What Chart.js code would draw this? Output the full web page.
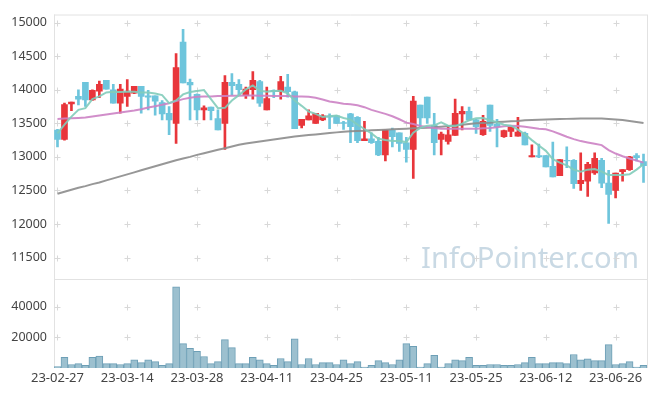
<!DOCTYPE html>
<html>
<head>
<meta charset="utf-8">
<script src="https://cdn.jsdelivr.net/npm/chart.js@4/dist/chart.umd.min.js"></script>
<style>
    html, body { margin: 0; padding: 0; background: #fff; }
    #wrap { width: 657px; height: 396px; }
</style>
</head>
<body>
<div id="wrap"><canvas id="chart" width="657" height="396"></canvas></div>
<script>
    "use strict";

    // Trading days
    var dates = [
        '23-02-27', '23-02-28',
        '23-03-02', '23-03-03', '23-03-06', '23-03-07', '23-03-08', '23-03-09', '23-03-10', '23-03-13',
        '23-03-14', '23-03-15', '23-03-16', '23-03-17', '23-03-20', '23-03-21', '23-03-22', '23-03-23',
        '23-03-24', '23-03-27', '23-03-28', '23-03-29', '23-03-30', '23-03-31',
        '23-04-03', '23-04-04', '23-04-05', '23-04-06', '23-04-07', '23-04-10', '23-04-11', '23-04-12',
        '23-04-13', '23-04-14', '23-04-17', '23-04-18', '23-04-19', '23-04-20', '23-04-21', '23-04-24',
        '23-04-25', '23-04-26', '23-04-27', '23-04-28',
        '23-05-02', '23-05-03', '23-05-04', '23-05-08', '23-05-09', '23-05-10', '23-05-11', '23-05-12',
        '23-05-15', '23-05-16', '23-05-17', '23-05-18', '23-05-19', '23-05-22', '23-05-23', '23-05-24',
        '23-05-25', '23-05-26', '23-05-30', '23-05-31',
        '23-06-01', '23-06-02', '23-06-05', '23-06-07', '23-06-08', '23-06-09', '23-06-12', '23-06-13',
        '23-06-14', '23-06-15', '23-06-16', '23-06-19', '23-06-20', '23-06-21', '23-06-22', '23-06-23',
        '23-06-26', '23-06-27', '23-06-28', '23-06-29', '23-06-30'
    ];

    // Axis ticks
    var priceTicks = [11500, 12000, 12500, 13000, 13500, 14000, 14500, 15000];
    var volumeTicks = [20000, 40000];

    // OHLC
    var opens = [
        13400, 13260, 13790, 13900, 14110, 13850, 13980, 14140, 14000, 13800,
        13900, 13950, 14050, 13910, 13910, 13810, 13650, 13500, 14710, 14110,
        13930, 13700, 13740, 13570, 13500, 14110, 14080, 13910, 14000, 14120,
        13700, 13990, 13970, 14040, 13970, 13470, 13550, 13500, 13550, 13610,
        13610, 13510, 13640, 13590, 13240, 13270, 13230, 13030, 13400, 13360,
        13210, 13110, 13770, 13890, 13470, 13260, 13230, 13320, 13640, 13680,
        13550, 13330, 13770, 13490, 13300, 13380, 13310, 13350, 13000, 13020,
        13020, 12860, 12720, 12950, 12950, 12600, 12640, 12760, 12950, 12610,
        12500, 12780, 12810, 13020, 12930
    ];
    var highs = [
        13410, 13800, 13815, 14000, 14110, 14000, 14130, 14140, 14080, 14080,
        14150, 14050, 14050, 13990, 13910, 13840, 13750, 14540, 14900, 14160,
        13940, 13760, 13740, 13700, 14210, 14240, 14150, 14040, 14270, 14140,
        14040, 14000, 14200, 14230, 13980, 13560, 13700, 13650, 13630, 13640,
        13620, 13530, 13650, 13600, 13530, 13360, 13290, 13400, 13430, 13360,
        13290, 13900, 13770, 13890, 13650, 13370, 13460, 13860, 13750, 13740,
        13560, 13620, 13770, 13560, 13400, 13470, 13590, 13370, 13180, 13190,
        13020, 13220, 12960, 13150, 12960, 13060, 12920, 13060, 12980, 12800,
        12760, 12810, 13010, 13050, 13040
    ];
    var lows = [
        13150, 13250, 13690, 13775, 13750, 13840, 13880, 14010, 13800, 13650,
        13750, 13940, 13650, 13700, 13620, 13550, 13330, 13200, 14100, 13550,
        13550, 13550, 13550, 13400, 13110, 13920, 13920, 13870, 13860, 13750,
        13700, 13880, 13860, 13890, 13420, 13430, 13550, 13500, 13540, 13420,
        13500, 13410, 13210, 13210, 13240, 13200, 13020, 12940, 13150, 13080,
        12920, 12680, 13430, 13500, 13030, 13030, 13190, 13320, 13400, 13540,
        13350, 13320, 13380, 13150, 13290, 13300, 13310, 13180, 13000, 12990,
        12850, 12700, 12720, 12840, 12530, 12500, 12410, 12740, 12540, 12010,
        12390, 12640, 12800, 12940, 12620
    ];
    var closes = [
        13260, 13780, 13815, 13860, 13850, 13990, 14080, 14010, 13800, 14010,
        13960, 14050, 13900, 13890, 13830, 13640, 13550, 14330, 14100, 14070,
        13700, 13730, 13690, 13400, 14110, 14060, 14000, 14010, 14140, 13800,
        13870, 13970, 14120, 13970, 13420, 13560, 13610, 13650, 13610, 13590,
        13500, 13500, 13450, 13240, 13270, 13210, 13030, 13400, 13300, 13200,
        13110, 13830, 13580, 13580, 13210, 13340, 13330, 13650, 13680, 13550,
        13450, 13530, 13470, 13450, 13390, 13450, 13370, 13180, 13020, 13000,
        12850, 12700, 12960, 12940, 12600, 12650, 12890, 12980, 12610, 12440,
        12760, 12810, 13000, 12990, 12870
    ];

    // Moving averages
    var ma5 = [
        13350, 13480, 13600, 13700, 13725, 13860, 13900, 13960, 13970, 13965,
        13970, 13970, 13960, 13960, 13945, 13920, 13800, 13840, 13930, 13965,
        13980, 13995, 13860, 13725, 13730, 13840, 13920, 14005, 14065, 13985,
        13970, 13980, 13985, 13945, 13840, 13760, 13675, 13640, 13595, 13605,
        13615, 13580, 13555, 13480, 13415, 13350, 13270, 13250, 13235, 13235,
        13220, 13360, 13430, 13465, 13470, 13515, 13465, 13455, 13495, 13545,
        13575, 13580, 13545, 13515, 13480, 13465, 13405, 13335, 13250, 13170,
        13090, 12965, 12915, 12875, 12810, 12780, 12810, 12820, 12780, 12730,
        12730, 12730, 12740, 12810, 12890
    ];
    var ma20 = [
        13565, 13570, 13575, 13580, 13585, 13600, 13615, 13630, 13645, 13660,
        13675, 13690, 13710, 13735, 13755, 13775, 13800, 13830, 13860, 13880,
        13895, 13900, 13900, 13905, 13905, 13910, 13910, 13915, 13915, 13912,
        13910, 13905, 13905, 13905, 13900, 13900, 13895, 13880, 13855, 13825,
        13810, 13790, 13785, 13770, 13740, 13700, 13670, 13640, 13605, 13560,
        13510, 13490, 13460, 13445, 13430, 13420, 13420, 13420, 13420, 13420,
        13420, 13425, 13430, 13440, 13455, 13465, 13460, 13450, 13435, 13420,
        13410, 13380, 13340, 13300, 13265, 13235, 13215, 13195, 13175, 13100,
        13050, 13010, 12975, 12945, 12915
    ];
    var ma60 = [
        12450, 12480, 12510, 12540, 12565, 12595, 12620, 12650, 12680, 12710,
        12740, 12770, 12800, 12830, 12860, 12890, 12920, 12950, 12975, 13000,
        13030, 13055, 13080, 13105, 13130, 13155, 13180, 13200, 13215, 13230,
        13245, 13260, 13275, 13290, 13305, 13315, 13325, 13335, 13345, 13355,
        13365, 13375, 13380, 13385, 13390, 13395, 13400, 13405, 13410, 13415,
        13420, 13425, 13430, 13435, 13440, 13450, 13460, 13470, 13480, 13490,
        13500, 13505, 13510, 13520, 13525, 13530, 13535, 13545, 13550, 13553,
        13557, 13560, 13563, 13566, 13568, 13570, 13571, 13572, 13570, 13565,
        13558, 13548, 13535, 13520, 13505
    ];

    // Volume
    var volumes = [
        1000, 6900, 2300, 2900, 1700, 6900, 7700, 2900, 2900, 2300,
        2900, 5400, 3500, 5400, 4200, 1700, 2900, 52900, 15900, 12800,
        10800, 7500, 2900, 4200, 18500, 13300, 2900, 2900, 6900, 5400,
        2900, 1700, 6200, 4200, 19100, 2300, 6200, 2300, 3500, 3500,
        2300, 5400, 2900, 4200, 600, 1700, 4800, 3500, 2300, 5400,
        15900, 14100, 600, 2900, 8200, 600, 2900, 5400, 4800, 6900,
        1700, 1700, 2300, 2300, 1700, 1700, 2300, 3500, 6900, 2900,
        2900, 3500, 3500, 2900, 8800, 5400, 6000, 4800, 4800, 15300,
        2300, 2900, 4200, 600, 1700
    ];

    var UP = '#e8363b';
    var DOWN = '#6ec5dc';
    var GRID = '#d8d8d8';

    var bodies = [], wicks = [], candleColors = [];
    for (var i = 0; i < dates.length; i++) {
        bodies.push([opens[i], closes[i]]);
        wicks.push([lows[i], highs[i]]);
        candleColors.push(closes[i] >= opens[i] ? UP : DOWN);
    }

    function setTicks(values) {
        return function(scale) {
            scale.ticks = values.map(function(v) { return { value: v }; });
        };
    }

    function plainNumber(v) {
        return String(v);
    }

    // Crosses at grid points + frame + watermark
    var backdrop = {
        id: 'backdrop',
        beforeDatasetsDraw: function(chart) {
            var ctx = chart.ctx;
            var area = chart.chartArea;
            var xs = chart.scales.x, py = chart.scales.y, vy = chart.scales.vol;
            ctx.save();

            // watermark
            ctx.font = '30px "Noto Sans"';
            var w = ctx.measureText('InfoPointer.com').width;
            var size = 30 * 218 / w;
            ctx.font = size + 'px "Noto Sans"';
            ctx.fillStyle = '#c9d9e4';
            ctx.textAlign = 'right';
            ctx.textBaseline = 'alphabetic';
            ctx.fillText('InfoPointer.com', 639, py.bottom - 11);

            // frame
            ctx.strokeStyle = '#e2e2e2';
            ctx.lineWidth = 1;
            ctx.beginPath();
            ctx.moveTo(area.left + 0.5, area.top);
            ctx.lineTo(area.left + 0.5, area.bottom);
            ctx.moveTo(area.right + 0.5, area.top);
            ctx.lineTo(area.right + 0.5, area.bottom);
            ctx.moveTo(area.left, area.top + 0.5);
            ctx.lineTo(area.right, area.top + 0.5);
            ctx.moveTo(area.left, Math.round(py.bottom) + 0.5);
            ctx.lineTo(area.right, Math.round(py.bottom) + 0.5);
            ctx.moveTo(area.left, area.bottom - 0.5);
            ctx.lineTo(area.right, area.bottom - 0.5);
            ctx.stroke();

            // crosses
            ctx.strokeStyle = GRID;
            ctx.beginPath();
            var ys = [];
            priceTicks.forEach(function(v) { ys.push(py.getPixelForValue(v)); });
            volumeTicks.forEach(function(v) { ys.push(vy.getPixelForValue(v)); });
            for (var k = 0; k < dates.length; k += 10) {
                var x = Math.round(xs.getPixelForValue(k)) + 0.5;
                ys.forEach(function(y) {
                    y = Math.round(y) + 0.5;
                    ctx.moveTo(x - 3, y);
                    ctx.lineTo(x + 3, y);
                    ctx.moveTo(x, y - 3);
                    ctx.lineTo(x, y + 3);
                });
            }
            ctx.stroke();
            ctx.restore();
        }
    };

    var xFont = { family: '"Noto Sans", sans-serif', size: 13 };
    var yFont = { family: '"Noto Sans", sans-serif', size: 12.5 };

    new Chart(document.getElementById('chart').getContext('2d'), {
        type: 'bar',
        data: {
            labels: dates,
            datasets: [{
                type: 'line',
                data: ma5,
                yAxisID: 'y',
                borderColor: 'rgba(130, 204, 186, 0.9)',
                borderWidth: 2,
                pointRadius: 0,
                order: 1
            }, {
                type: 'line',
                data: ma20,
                yAxisID: 'y',
                borderColor: 'rgba(204, 130, 196, 0.9)',
                borderWidth: 2,
                pointRadius: 0,
                order: 1
            }, {
                type: 'line',
                data: ma60,
                yAxisID: 'y',
                borderColor: 'rgba(140, 140, 140, 0.9)',
                borderWidth: 2,
                pointRadius: 0,
                order: 1
            }, {
                data: bodies,
                yAxisID: 'y',
                backgroundColor: candleColors,
                borderWidth: 0,
                barThickness: 6,
                grouped: false,
                order: 3
            }, {
                data: wicks,
                yAxisID: 'y',
                backgroundColor: candleColors,
                borderWidth: 0,
                barThickness: 2,
                grouped: false,
                order: 4
            }, {
                data: volumes,
                yAxisID: 'vol',
                backgroundColor: '#9cc0cf',
                borderColor: '#6d9fb6',
                borderWidth: 1,
                barPercentage: 1,
                categoryPercentage: 1,
                grouped: false,
                order: 5
            }]
        },
        options: {
            responsive: false,
            animation: false,
            layout: { padding: { left: 0, top: 10, right: 10, bottom: 0 } },
            plugins: {
                legend: { display: false },
                tooltip: { enabled: false }
            },
            scales: {
                x: {
                    type: 'category',
                    offset: true,
                    grid: { display: false, drawTicks: false },
                    border: { display: false },
                    ticks: {
                        autoSkip: false,
                        maxRotation: 0,
                        padding: 2,
                        color: '#444',
                        font: xFont,
                        callback: function(v, i) { return i % 10 === 0 ? dates[i] : ''; }
                    },
                    afterFit: function(s) { s.height = 28; }
                },
                vol: {
                    position: 'left',
                    stack: 'panel',
                    stackWeight: 90,
                    min: 0,
                    max: 58000,
                    grid: { display: false, drawTicks: false },
                    border: { display: false },
                    ticks: { padding: 7, color: '#444', font: yFont, callback: plainNumber },
                    afterBuildTicks: setTicks(volumeTicks),
                    afterFit: function(s) { s.width = 54; }
                },
                y: {
                    position: 'left',
                    stack: 'panel',
                    stackWeight: 268,
                    min: 11180,
                    max: 15120,
                    grid: { display: false, drawTicks: false },
                    border: { display: false },
                    ticks: { padding: 7, color: '#444', font: yFont, callback: plainNumber },
                    afterBuildTicks: setTicks(priceTicks),
                    afterFit: function(s) { s.width = 54; }
                }
            }
        },
        plugins: [backdrop]
    });
</script>
</body>
</html>
